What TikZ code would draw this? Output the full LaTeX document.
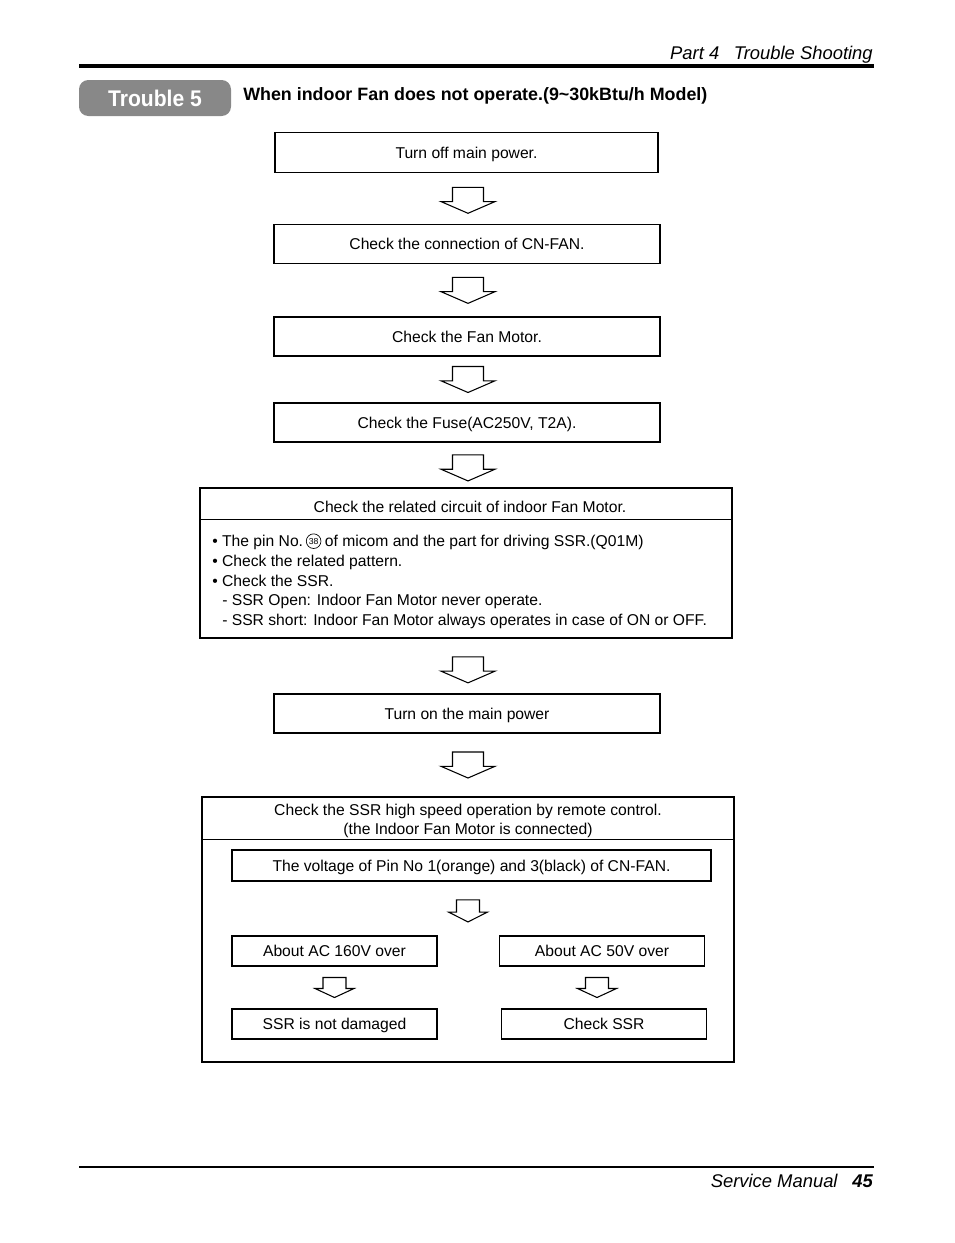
\documentclass[tikz,border=0pt]{standalone}
\usepackage{fontspec}
\setmainfont{Liberation Sans}
\newfontfamily\narrowfont[FakeStretch=0.93]{Liberation Sans}
\usepackage{xcolor}
\usetikzlibrary{positioning}
\usetikzlibrary{calc}

\definecolor{badgegray}{RGB}{136,136,136}

\tikzset{
    box/.style={draw, line width=0.8pt, inner sep=0pt, font=\fontsize{11.75}{14}\selectfont, text height=8.4pt, text depth=0pt},
    wbox/.style={box, minimum width=289.5pt, minimum height=29.6pt},
    sbox/.style={box, minimum width=153.75pt, minimum height=22.5pt},
    bigbox/.style={draw, line width=0.8pt, inner sep=0pt, minimum width=399pt},
    txt/.style={inner sep=0pt, font=\fontsize{11.75}{14}\selectfont},
    blockarrow/.style={draw, line width=0.8pt, line join=miter, fill=white},
}

% block arrow: centre point, stem half width, head half width, length
\newcommand{\downarr}[4]{%
    \coordinate (m) at (#1);
    \draw[blockarrow] ([shift={(-#2,-#4/2)}]m) -- ++(2*#2,0) -- ++(0,0.55*#4)
        -- ++(#3-#2,0) -- ++(-#3,0.45*#4) -- ++(-#3,-0.45*#4) -- ++(#3-#2,0) -- cycle;
}

\begin{document}
\begin{tikzpicture}[x=0.75pt, y=-0.75pt]
    \useasboundingbox (0,0) rectangle (954,1243);
    \fill[white] (0,0) rectangle (954,1243);

    % page head
    \node[anchor=base east, inner sep=0pt, font=\fontsize{13.8}{16}\selectfont\itshape] (part) at (873,59) {Part 4\hspace{11pt}Trouble Shooting};
    \draw[line width=2.3pt] (79,66) -- (874,66);
    \node[fill=badgegray, rounded corners=7pt, minimum width=114pt, minimum height=27pt, inner sep=0pt,
          text=white, font=\fontsize{17}{20}\selectfont\narrowfont\bfseries, text height=12.2pt, text depth=0pt] (trb) at (155,98) {Trouble 5};
    \node[anchor=base west, inner sep=0pt, font=\fontsize{13.4}{16}\selectfont\bfseries] (title) at (243,100.5) {When indoor Fan does not operate.(9\textasciitilde 30kBtu/h Model)};

    % first steps
    \node[wbox, minimum width=287.25pt] (off) at (466.5,152.5) {Turn off main power.};
    \node[wbox] (conn) at (467,244) {Check the connection of CN-FAN.};
    \node[wbox, minimum height=29.25pt] (motor) at (467,336.5) {Check the Fan Motor.};
    \node[wbox, minimum height=29.25pt] (fuse) at (467,422.5) {Check the Fuse(AC250V, T2A).};

    % related circuit
    \node[bigbox, minimum height=112.5pt] (circ) at (466,563) {};
    \draw[line width=0.8pt] ([yshift=-24pt]circ.north west) -- ([yshift=-24pt]circ.north east);
    \node[txt, text height=8.4pt, text depth=0pt] (circhd) at (470,507) {Check the related circuit of indoor Fan Motor.};
    \node[txt, anchor=base west] (pin) at (212,546.5) {\textbullet\ The pin No.};
    \node[circle, draw, line width=0.5pt, minimum size=11pt, inner sep=0pt, font=\fontsize{6.5}{7}\selectfont] (pinno) at ([xshift=7.7pt,yshift=4pt]pin.base east) {38};
    \node[txt, anchor=base west] (pinrest) at ([xshift=2.5pt]pinno.east |- pin.base) {of micom and the part for driving SSR.(Q01M)};
    \foreach \y/\x/\t in {566.5/212/{\textbullet\ Check the related pattern.},
                          586.5/212/{\textbullet\ Check the SSR.},
                          605.5/222/{- SSR Open: Indoor Fan Motor never operate.},
                          625.5/222/{- SSR short: Indoor Fan Motor always operates in case of ON or OFF.}} {
        \node[txt, anchor=base west] at (\x,\y) {\t};
    }

    \node[wbox, minimum height=29.25pt] (power) at (467,713.5) {Turn on the main power};

    % SSR check
    \node[bigbox, minimum height=198.75pt] (ssr) at (468,929.5) {};
    \draw[line width=0.8pt] ([yshift=-32.25pt]ssr.north west) -- ([yshift=-32.25pt]ssr.north east);
    \node[txt, text height=8.4pt, text depth=0pt] (ssrhd) at (468,810) {Check the SSR high speed operation by remote control.};
    \node[txt, text height=8.4pt, text depth=0pt] (ssrhd2) at (468,829) {(the Indoor Fan Motor is connected)};
    \node[box, minimum width=359.25pt, minimum height=23.25pt] (volt) at (471.5,865.5) {The voltage of Pin No 1(orange) and 3(black) of CN-FAN.};
    \node[sbox] (ac160) at (334.5,951) {About AC 160V over};
    \node[sbox] (ac50) at (602,951) {About AC 50V over};
    \node[sbox] (okssr) at (334.5,1024) {SSR is not damaged};
    \node[sbox] (chkssr) at (604,1024) {Check SSR};

    % arrows
    \downarr{$(conn.north |- off.south)!0.54!(conn.north)+(1,0)$}{15.5}{27}{26}
    \downarr{$(conn.south)!0.5!(motor.north)+(1,0)$}{15.5}{27}{26}
    \downarr{$(motor.south)!0.5!(fuse.north)+(1,0)$}{15.5}{27}{26}
    \downarr{$(fuse.south)!0.565!(fuse.south |- circ.north)+(1,0)$}{15.5}{27}{26}
    \downarr{$(power.north |- circ.south)!0.57!(power.north)+(1,0)$}{15.5}{27}{26}
    \downarr{$(power.south)!0.5!(power.south |- ssr.north)+(1,0)$}{15.5}{27}{26}
    \downarr{$(ssr.center |- volt.south)!0.545!(ssr.center |- ac160.north)$}{11.5}{19.5}{22}
    \downarr{$(ac160.south)!0.5!(okssr.north)$}{11.5}{19.5}{20}
    \downarr{$(ac50.south)!0.5!(chkssr.north)+(-6,0)$}{11.5}{19.5}{20}

    % page foot
    \draw[line width=0.8pt] (79,1167) -- (874,1167);
    \node[anchor=base east, inner sep=0pt, font=\fontsize{13.8}{16}\selectfont\itshape] (foot) at (873,1187.5) {Service Manual\hspace{11pt}{\bfseries 45}};
\end{tikzpicture}
\end{document}
